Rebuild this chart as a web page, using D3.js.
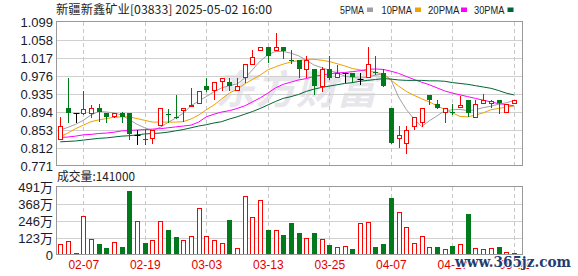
<!DOCTYPE html>
<html><head><meta charset="utf-8">
<script src="https://cdn.jsdelivr.net/npm/d3@7"></script>
<style>body{margin:0;background:#fff}svg{display:block}</style>
</head><body><svg id="c" width="578" height="276"></svg>
<script>
const dates = ["02-04","02-05","02-06","02-07","02-10","02-11","02-12","02-13","02-14","02-17","02-18","02-19","02-20","02-21","02-24","02-25","02-26","02-27","02-28",
"03-03","03-04","03-05","03-06","03-07","03-10","03-11","03-12","03-13","03-14","03-17","03-18","03-19","03-20","03-21","03-24","03-25","03-26","03-27","03-28","03-31",
"04-01","04-02","04-03","04-07","04-08","04-09","04-10","04-11","04-14","04-15","04-16","04-17","04-22","04-23","04-24","04-25","04-28","04-29","04-30","05-02"];
const tickIdx = [3,11,19,27,35,43,51,59];
const opens = [0.833,0.902,0.892,0.892,0.892,0.902,0.892,0.885,0.892,0.892,
0.842,0.833,0.835,0.864,0.890,0.882,0.899,0.910,0.914,0.953,
0.943,0.965,0.962,0.944,0.973,1.003,1.035,1.041,1.035,1.041,
1.013,1.012,0.993,0.991,0.954,0.991,0.973,0.982,0.982,0.969,
0.973,0.985,0.982,0.902,0.834,0.823,0.863,0.872,0.933,0.912,
0.895,0.893,0.905,0.921,0.883,0.914,0.914,0.921,0.893,0.914];
const highs = [0.882,0.972,0.892,0.942,0.911,0.913,0.892,0.892,0.893,0.892,
0.853,0.853,0.853,0.902,0.900,0.933,0.903,0.949,0.942,0.972,
0.962,0.972,0.971,0.971,1.003,1.035,1.041,1.041,1.074,1.041,
1.035,1.012,1.022,0.991,0.996,1.021,1.002,0.983,0.983,0.982,
1.043,1.022,0.991,0.902,0.862,0.862,0.882,0.902,0.933,0.921,
0.903,0.912,0.930,0.921,0.921,0.934,0.921,0.921,0.912,0.921];
const lows = [0.833,0.872,0.872,0.890,0.883,0.874,0.872,0.883,0.872,0.833,
0.821,0.822,0.823,0.864,0.872,0.881,0.873,0.907,0.914,0.942,
0.924,0.944,0.944,0.944,0.963,1.003,1.035,1.007,1.035,1.017,
1.005,0.974,0.973,0.935,0.942,0.970,0.973,0.963,0.963,0.957,
0.973,0.980,0.954,0.823,0.814,0.801,0.855,0.862,0.912,0.903,
0.872,0.890,0.905,0.885,0.883,0.914,0.905,0.892,0.893,0.914];
const closes = [0.862,0.892,0.892,0.901,0.902,0.894,0.883,0.892,0.882,0.844,
0.842,0.832,0.853,0.902,0.889,0.881,0.902,0.911,0.942,0.943,
0.962,0.971,0.953,0.953,1.003,1.020,1.041,1.022,1.041,1.033,
1.012,0.993,1.012,0.954,0.991,0.972,0.983,0.982,0.973,0.969,
1.003,0.982,0.954,0.823,0.842,0.853,0.882,0.902,0.921,0.904,
0.902,0.892,0.911,0.892,0.912,0.921,0.920,0.914,0.912,0.921];
const ma5 = [0.853,0.859,0.866,0.875,0.887,0.895,0.894,0.892,0.887,0.876,
0.866,0.858,0.852,0.859,0.870,0.880,0.891,0.908,0.919,0.929,
0.940,0.949,0.954,0.958,0.971,0.990,1.010,1.024,1.032,1.032,
1.028,1.022,1.012,1.001,0.995,0.989,0.983,0.976,0.973,0.971,
0.974,0.978,0.981,0.968,0.928,0.900,0.878,0.861,0.874,0.885,
0.897,0.899,0.900,0.897,0.899,0.904,0.907,0.912,0.915,0.920];
const ma10 = [0.838,0.846,0.856,0.864,0.872,0.876,0.879,0.882,0.883,0.883,
0.879,0.875,0.871,0.871,0.871,0.871,0.872,0.878,0.887,0.899,
0.910,0.924,0.937,0.946,0.958,0.968,0.978,0.990,0.997,1.003,
1.008,1.011,1.014,1.014,1.012,1.009,1.004,0.999,0.993,0.990,
0.987,0.985,0.979,0.967,0.953,0.941,0.932,0.924,0.917,0.908,
0.900,0.892,0.884,0.883,0.887,0.892,0.899,0.902,0.905,0.908];
const ma20 = [0.836,0.837,0.839,0.842,0.843,0.845,0.846,0.848,0.851,0.852,
0.853,0.854,0.855,0.856,0.858,0.860,0.862,0.864,0.871,0.883,
0.889,0.894,0.897,0.902,0.908,0.917,0.926,0.937,0.949,0.957,
0.962,0.967,0.970,0.975,0.978,0.981,0.983,0.984,0.986,0.988,
0.991,0.992,0.991,0.987,0.982,0.975,0.968,0.962,0.956,0.949,
0.942,0.937,0.933,0.929,0.925,0.921,0.917,0.913,0.911,0.908];
const ma30 = [0.826,0.827,0.828,0.830,0.832,0.834,0.835,0.837,0.839,0.840,
0.842,0.844,0.845,0.846,0.848,0.851,0.854,0.858,0.862,0.865,
0.869,0.872,0.878,0.883,0.889,0.895,0.902,0.910,0.918,0.925,
0.929,0.934,0.941,0.946,0.950,0.953,0.956,0.959,0.961,0.964,
0.966,0.968,0.970,0.969,0.967,0.966,0.966,0.966,0.965,0.965,
0.964,0.961,0.959,0.957,0.954,0.951,0.948,0.943,0.937,0.933];
const volumes = [79,101,14,282,115,79,51,92,60,462,
245,87,106,245,180,130,106,137,337,137,
106,84,253,51,424,272,397,180,178,144,
231,159,123,159,115,72,58,65,43,229,
241,57,78,410,308,201,84,135,57,57,
43,65,77,296,48,41,48,58,19,14.1];
const volUp = [1,1,1,1,1,0,0,1,0,0, 1,0,1,1,0,0,1,1,1,1, 1,1,0,1,1,1,1,0,1,0,
0,0,1,0,1,0,1,1,0,1, 1,0,0,0,1,1,1,1,1,0, 1,0,1,0,1,1,1,0,1,1];
const priceTicks = [1.099,1.058,1.017,0.976,0.935,0.894,0.853,0.812,0.771];
const volTicks = [491,368,246,123,0];
const volTickLabels = ["491万","368万","246万","123万","0"];
const maNames = ["5PMA","10PMA","20PMA","30PMA"];
const maSeries = [ma5, ma10, ma20, ma30];
const titleText = "新疆新鑫矿业[03833] 2025-05-02 16:00";
const volHeader = "成交量:141000";

const RED = "#ff0000", GREEN = "#007a1a";
const maColors = ["#a0a0a0","#f0a000","#ff00ff","#006633"];
const L = 56, R = 522;
const svg = d3.select("#c");
const x = d3.scaleLinear().domain([0, 59]).range([60.2, 513.9]);
const y = d3.scaleLinear().domain([0.771, 1.099]).range([166, 22]);
const yv = d3.scaleLinear().domain([0, 491]).range([255, 187]);
const px = v => Math.round(v) + 0.5;
const NUM = "'Liberation Sans', Arial, sans-serif";
const CJK = "'Noto Sans CJK SC', sans-serif";

// watermark
svg.append("text").attr("x", 215).attr("y", 104).attr("font-family", CJK)
  .attr("font-size", 40).attr("font-weight", "bold").attr("font-style", "italic")
  .attr("fill", "#e6e6ec").attr("textLength", 162).attr("lengthAdjust", "spacingAndGlyphs").text("东方财富");

// horizontal grid
const g = svg.append("g");
priceTicks.slice(1, -1).forEach(t => g.append("line").attr("x1", L).attr("x2", R)
  .attr("y1", px(y(t))).attr("y2", px(y(t))).attr("stroke", "#d0d0d0"));
volTicks.slice(1, -1).forEach(t => g.append("line").attr("x1", L).attr("x2", R)
  .attr("y1", px(yv(t))).attr("y2", px(yv(t))).attr("stroke", "#d0d0d0"));
// vertical dashed
tickIdx.forEach(i => {
  [[22, 166], [187, 255]].forEach(([a, b]) => g.append("line").attr("x1", px(x(i))).attr("x2", px(x(i)))
    .attr("y1", a).attr("y2", b).attr("stroke", "#c8c8c8").attr("stroke-dasharray", "4,3"));
});

// MA lines
maSeries.forEach((s, k) => {
  svg.append("path").datum(s).attr("fill", "none").attr("stroke", maColors[k]).attr("stroke-width", 1)
    .attr("d", d3.line().x((d, i) => x(i)).y(d => y(d)));
});

// candles
const cg = svg.append("g");
opens.forEach((o, i) => {
  const c = closes[i], cx = px(x(i));
  const col = c > o ? RED : (c < o ? GREEN : "#000");
  cg.append("line").attr("x1", cx).attr("x2", cx).attr("y1", Math.round(y(highs[i]))).attr("y2", Math.round(y(lows[i])) + 1)
    .attr("stroke", col);
  if (c > o) {
    const top = px(y(c)), bot = px(y(o));
    cg.append("rect").attr("x", cx - 2).attr("width", 4).attr("y", top).attr("height", Math.max(1, bot - top))
      .attr("fill", "#fff").attr("stroke", RED);
  } else if (c < o) {
    const top = Math.round(y(o)), bot = Math.round(y(c));
    cg.append("rect").attr("x", cx - 2.5).attr("width", 5).attr("y", top).attr("height", Math.max(1, bot - top))
      .attr("fill", GREEN);
  } else {
    cg.append("line").attr("x1", cx - 3).attr("x2", cx + 3).attr("y1", px(y(c))).attr("y2", px(y(c))).attr("stroke", "#000");
  }
});

// volume bars
volumes.forEach((v, i) => {
  const cx = px(x(i));
  if (volUp[i]) {
    const top = px(yv(v));
    cg.append("rect").attr("x", cx - 2).attr("width", 4).attr("y", top).attr("height", Math.max(1, 254.5 - top))
      .attr("fill", "#fff").attr("stroke", RED);
  } else {
    const top = Math.round(yv(v));
    cg.append("rect").attr("x", cx - 2.5).attr("width", 5).attr("y", top).attr("height", 255 - top).attr("fill", GREEN);
  }
});

// frames
svg.append("rect").attr("x", L + 0.5).attr("y", 21.5).attr("width", R - L).attr("height", 144)
  .attr("fill", "none").attr("stroke", "#999");
svg.append("rect").attr("x", L + 0.5).attr("y", 186.5).attr("width", R - L).attr("height", 68)
  .attr("fill", "none").attr("stroke", "#999");

// axes
const ya = svg.append("g").attr("transform", `translate(${L},0)`)
  .call(d3.axisLeft(y).tickValues(priceTicks).tickFormat(d3.format(".3f")).tickSize(0).tickPadding(3));
const yva = svg.append("g").attr("transform", `translate(${L},0)`)
  .call(d3.axisLeft(yv).tickValues(volTicks).tickFormat((d, i) => volTickLabels[i]).tickSize(0).tickPadding(3));
const xa = svg.append("g").attr("transform", `translate(0,256)`)
  .call(d3.axisBottom(x).tickValues(tickIdx).tickFormat(i => dates[i]).tickSize(0).tickPadding(4));
[ya, yva, xa].forEach(a => {
  a.select(".domain").remove();
  a.selectAll("text").attr("font-family", NUM).attr("font-size", 13).attr("fill", "#1a1a2a");
});
yva.selectAll("text").attr("font-family", "'Liberation Sans', 'Noto Sans CJK SC', sans-serif");
xa.selectAll("text").attr("font-size", 12).attr("fill", "#e00000");

// title & legend
svg.append("text").attr("x", 56).attr("y", 14).attr("font-family", CJK).attr("font-size", 12)
  .attr("fill", "#222").attr("textLength", 216).attr("lengthAdjust", "spacingAndGlyphs").text(titleText);
const legX = [340, 381.5, 428, 474], legW = [24, 30.4, 31.5, 30.4], sqX = [367, 415, 461, 507.5];
maNames.forEach((n, k) => {
  svg.append("text").attr("x", legX[k]).attr("y", 13.5).attr("font-family", NUM).attr("font-size", 11)
    .attr("fill", "#222").attr("textLength", legW[k]).attr("lengthAdjust", "spacingAndGlyphs").text(n);
  svg.append("rect").attr("x", sqX[k]).attr("y", 7.5).attr("width", 6).attr("height", 4.5).attr("fill", maColors[k]);
});
svg.append("text").attr("x", 57).attr("y", 181).attr("font-family", CJK).attr("font-size", 12)
  .attr("fill", "#222").attr("textLength", 78).attr("lengthAdjust", "spacingAndGlyphs").text(volHeader);

// site watermark
svg.append("text").attr("x", 455).attr("y", 267).attr("font-family", "'DejaVu Serif', serif").attr("font-size", 15)
  .attr("font-weight", "bold").attr("fill", "#1f3d6e").attr("stroke", "#fff").attr("stroke-width", 2)
  .attr("paint-order", "stroke").attr("textLength", 116).attr("lengthAdjust", "spacingAndGlyphs").text("www.365jz.com");
</script></body></html>
